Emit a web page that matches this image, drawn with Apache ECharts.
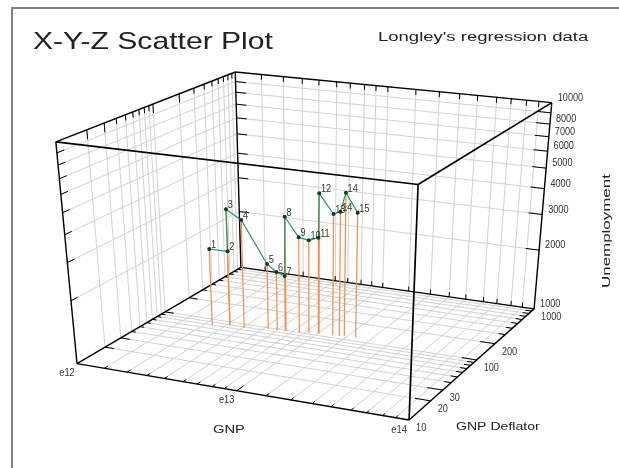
<!DOCTYPE html><html><body style="margin:0;background:#fff"><script src="https://cdn.jsdelivr.net/npm/echarts@6/dist/echarts.min.js"></script><div id="c" style="width:619px;height:468px"></div><script>
// ---- data ----
const gnp=[2.34e12,2.93e12,2.95e12,3.67e12,5.05e12,5.74e12,6.42e12,6.51e12,7.89e12,8.92e12,10.05e12,10.17e12,12.32e12,13.51e12,14.35e12,16.92e12];
const deflator=[81.2,89.0,87.3,87.4,95.6,97.0,98.9,98.2,99.5,104.0,108.5,108.1,110.6,111.9,115.1,115.7];
const unemployment=[2383,2330,3712,3376,2107,1947,1875,3609,2936,2850,2941,4735,3856,3977,4859,3993];
const pointLabels=['1','2','3','4','5','6','7','8','9','10','11','12','13','14','14','15'];
const gnpTicks=[1e12,1.5e12,2.1e12,2.8e12,3.6e12,4.7e12,5.75e12,7.1e12,8.4e12,1e13,1.5e13,2.1e13,2.8e13,3.6e13,4.7e13,5.75e13,7.1e13,8.4e13,1e14];
const gnpLabels=[['e12',1e12],['e13',1e13],['e14',1e14]];
const deflatorTicks=[10,20,30,40,50,60,70,80,90,100,200,300,400,500,600,700,800,900,1000];
const deflatorLabels=[10,20,30,100,200,1000];
const unemploymentTicks=[1000,2000,3000,4000,5000,6000,7000,8000,9000,10000];
const unemploymentLabels=[1000,2000,3000,4000,5000,6000,7000,8000,10000];
// ---- camera: where the eight box corners land (u,v,w -> px,py) ----
const cameraCorners=[[0,0,0,77,364],[1,0,0,409,420],[1,1,0,534,309],[0,1,0,241,267],[0,0,1,56,142],[1,0,1,418,184],[1,1,1,552,103],[0,1,1,235,72]];
function fitCamera(){const A=[],b=[];cameraCorners.forEach(([X,Y,Z,x,y])=>{A.push([X,Y,Z,1,0,0,0,0,-x*X,-x*Y,-x*Z]);b.push(x);A.push([0,0,0,0,X,Y,Z,1,-y*X,-y*Y,-y*Z]);b.push(y);});
const n=11,M=[];for(let i=0;i<n;i++){M[i]=[];for(let j=0;j<n;j++){let s=0;A.forEach(r=>s+=r[i]*r[j]);M[i][j]=s;}let s=0;A.forEach((r,k)=>s+=r[i]*b[k]);M[i][n]=s;}
for(let i=0;i<n;i++){let p=i;for(let k=i;k<n;k++)if(Math.abs(M[k][i])>Math.abs(M[p][i]))p=k;[M[i],M[p]]=[M[p],M[i]];for(let k=0;k<n;k++)if(k!==i){const f=M[k][i]/M[i][i];for(let j=i;j<=n;j++)M[k][j]-=f*M[i][j];}}
return M.map((r,i)=>r[n]/r[i]);}
const P=fitCamera();
function cam(u,v,w){const d=P[8]*u+P[9]*v+P[10]*w+1;return[(P[0]*u+P[1]*v+P[2]*w+P[3])/d,(P[4]*u+P[5]*v+P[6]*w+P[7])/d];}

const chart=echarts.init(document.getElementById('c'),null,{renderer:'canvas'});
const G={left:100,top:100,width:400,height:250};
// hidden log axes supply the scales; the camera turns their unit positions into 3-D
chart.setOption({animation:false,backgroundColor:'#fff',
  grid:[Object.assign({},G),Object.assign({},G)],
  xAxis:[{type:'log',gridIndex:0,min:1e12,max:1e14,show:false},{type:'log',gridIndex:1,min:10,max:1000,show:false}],
  yAxis:[{type:'log',gridIndex:0,min:1000,max:10000,show:false},{type:'value',gridIndex:1,min:0,max:1,show:false}]});
const U=v=>(chart.convertToPixel({xAxisIndex:0},v)-G.left)/G.width;
const V=v=>(chart.convertToPixel({xAxisIndex:1},v)-G.left)/G.width;
const W=v=>(G.top+G.height-chart.convertToPixel({yAxisIndex:0},v))/G.height;

const GRID='#d2d2d2',INK='#000',TXT='#333',ORANGE='#f58b4c',GREEN='#1b9a5c',DOT='#0b3b26';
function seg(a,b,stroke,lw){return{type:'line',shape:{x1:a[0],y1:a[1],x2:b[0],y2:b[1]},style:{stroke,lineWidth:lw}};}
function label(p,text,align,sx){return{type:'text',x:p[0],y:p[1],scaleX:sx,style:{text,fill:TXT,font:'11px "Liberation Sans"',align,verticalAlign:'middle'}};}

function renderGrid(){const c=[];
  const us=gnpTicks.map(U).slice(1,-1),vs=deflatorTicks.map(V).slice(1,-1),ws=unemploymentTicks.map(W).slice(1,-1);
  us.forEach(u=>{c.push(seg(cam(u,0,0),cam(u,1,0),GRID,1));c.push(seg(cam(u,1,0),cam(u,1,1),GRID,1));});
  vs.forEach(v=>{c.push(seg(cam(0,v,0),cam(1,v,0),GRID,1));c.push(seg(cam(0,v,0),cam(0,v,1),GRID,1));});
  ws.forEach(w=>{c.push(seg(cam(0,0,w),cam(0,1,w),GRID,1));c.push(seg(cam(0,1,w),cam(1,1,w),GRID,1));});
  return{type:'group',children:c};}
function renderFrame(){const c=[];
  const tick=(a,b)=>c.push(seg(cam(...a),cam(...b),INK,1));
  gnpTicks.slice(1,-1).forEach(t=>{const u=U(t),major=t===1e13,l=major?.04:.018;
    tick([u,0,0],[u,l,0]);tick([u,1,0],[u,1,.025]);tick([u,1,1],[u,1,.975]);});
  deflatorTicks.slice(1,-1).forEach(t=>{const v=V(t),major=deflatorLabels.includes(t),l=major?.045:.02;
    tick([1,v,0],[1-l,v,0]);tick([0,v,0],[major?.03:.014,v,0]);tick([0,v,1],[0,v,1-(major?.04:.025)]);});
  unemploymentTicks.slice(1,-1).forEach(t=>{const w=W(t);
    tick([1,1,w],[.958,1,w]);tick([0,1,w],[.035,1,w]);tick([0,0,w],[0,.035,w]);});
  const edges=[[[0,0,0],[1,0,0]],[[1,0,0],[1,1,0]],[[1,1,0],[0,1,0]],[[0,1,0],[0,0,0]],[[0,0,0],[0,0,1]],[[1,1,0],[1,1,1]],[[0,1,0],[0,1,1]],[[0,1,1],[1,1,1]],[[0,1,1],[0,0,1]]];
  edges.forEach(([a,b])=>c.push(seg(cam(...a),cam(...b),INK,1.4)));
  [[[0,0,1],[1,0,1]],[[1,0,1],[1,1,1]],[[1,0,0],[1,0,1]]].forEach(([a,b])=>c.push(seg(cam(...a),cam(...b),INK,1.7)));
  gnpLabels.forEach(([s,t])=>{const p=cam(U(t),0,0);c.push(label([p[0]-10,p[1]+9.5],s,'center',.85));});
  deflatorLabels.forEach(t=>{const p=cam(1,V(t),0);c.push(label([p[0]+7,p[1]+8],String(t),'left',.83));});
  unemploymentLabels.forEach(t=>{const p=cam(1,1,W(t));c.push(label([p[0]+6,p[1]-5],String(t),'left',.83));});
  return{type:'group',children:c};}
const top3=i=>cam(U(gnp[i]),V(deflator[i]),W(unemployment[i]));
const rows=gnp.map((g,i)=>[g,deflator[i],unemployment[i]]);
const txt=(x,y,text,font,sx,extra)=>Object.assign({type:'text',x,y,scaleX:sx,silent:true,style:{text,font,fill:'#222',textAlign:'left',textVerticalAlign:'middle'}},extra||{});

chart.setOption({
  graphic:{elements:[
    {type:'line',shape:{x1:12,y1:7,x2:12,y2:468},style:{stroke:'#808080',lineWidth:2},silent:true},
    {type:'line',shape:{x1:12,y1:8,x2:619,y2:8},style:{stroke:'#808080',lineWidth:2},silent:true},
    txt(33,42,'X-Y-Z Scatter Plot','24px "Liberation Sans"',1.255),
    txt(378,37.5,"Longley's regression data",'12.5px "Liberation Sans"',1.48),
    txt(213,430,'GNP','11px "Liberation Sans"',1.34),
    txt(456,427,'GNP Deflator','11px "Liberation Sans"',1.28),
    txt(606.5,288,'Unemployment','11px "Liberation Sans"',1.54,{rotation:Math.PI/2})
  ]},
  series:[
    {type:'custom',name:'grid',coordinateSystem:'none',silent:true,clip:false,z:1,data:[[0]],renderItem:renderGrid},
    {type:'custom',name:'frame',coordinateSystem:'none',silent:true,clip:false,z:2,data:[[0]],renderItem:renderFrame},
    {type:'custom',name:'stems',coordinateSystem:'none',silent:true,clip:false,z:3,data:rows,dimensions:['gnp','deflator','unemployment'],
      renderItem:(p,api)=>{const g=api.value(0),d=api.value(1),z=api.value(2);return seg(cam(U(g),V(d),W(z)),cam(U(g),V(d),0),ORANGE,1.2);}},
    {type:'custom',name:'path',coordinateSystem:'none',silent:true,clip:false,z:4,data:rows,dimensions:['gnp','deflator','unemployment'],
      renderItem:(p,api)=>{const i=p.dataIndex;if(i===0)return null;return seg(top3(i-1),top3(i),GREEN,1.2);}},
    {type:'custom',name:'points',coordinateSystem:'none',silent:true,clip:false,z:5,data:rows,dimensions:['gnp','deflator','unemployment'],
      renderItem:(p,api)=>{const q=cam(U(api.value(0)),V(api.value(1)),W(api.value(2)));
        return{type:'group',children:[
          {type:'circle',shape:{cx:q[0],cy:q[1],r:2},style:{fill:DOT}},
          {type:'text',x:q[0]+1.7,y:q[1]-4,scaleX:.87,style:{text:pointLabels[p.dataIndex],fill:TXT,font:'10.5px "Liberation Sans"',align:'left',verticalAlign:'middle'}}]};}}
  ]});
</script></body></html>
